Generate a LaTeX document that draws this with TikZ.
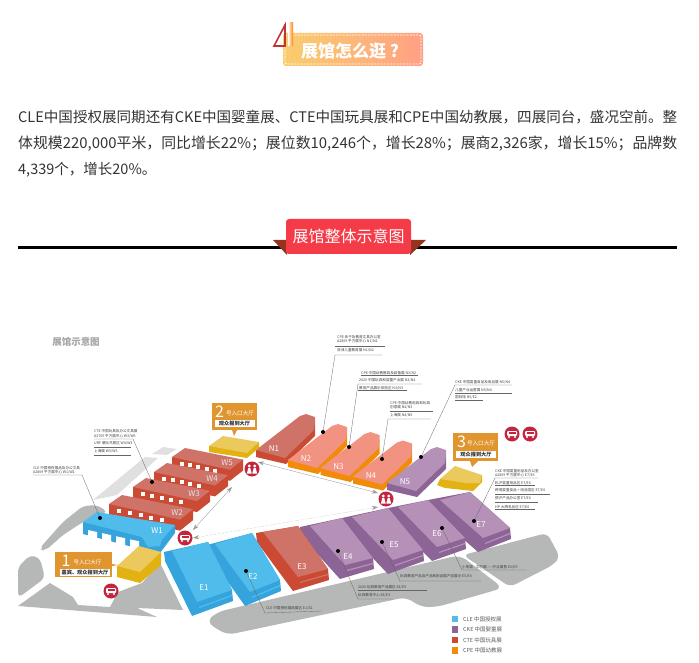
\documentclass[tikz,border=0pt]{standalone}
\usepackage{fontspec}
\usetikzlibrary{arrows.meta,calc}
\setmainfont{Noto Sans CJK SC}
\definecolor{groundGrey}{HTML}{B6B7B7}
\definecolor{paleGrey}{HTML}{E0E0E0}
\definecolor{roofRed}{HTML}{CF7268}
\definecolor{wallRed}{HTML}{CB4A34}
\definecolor{roofPeach}{HTML}{F29382}
\definecolor{wallOrange}{HTML}{F08C0A}
\definecolor{roofPurple}{HTML}{B591B8}
\definecolor{wallPurple}{HTML}{8C6496}
\definecolor{roofBlue}{HTML}{4FBCEC}
\definecolor{wallBlue}{HTML}{35A4DC}
\definecolor{blockTop}{HTML}{EBC95C}
\definecolor{blockWall}{HTML}{E2B212}
\definecolor{calloutOrange}{HTML}{E0952E}
\definecolor{iconRed}{HTML}{C5243F}
\definecolor{bannerLeft}{HTML}{F9CE6E}
\definecolor{bannerRight}{HTML}{FFA084}
\definecolor{titleRed}{HTML}{F43B47}
\definecolor{tabBrown}{HTML}{95341E}
\tikzset{
  hallname/.style={text=white,font=\fontsize{8}{8}\selectfont,inner sep=0pt},
  halldot/.style={circle,fill=black,inner sep=0pt,minimum size=4pt},
  leader/.style={draw=black!60,line width=0.3pt},
  tinytext/.style={anchor=west,inner sep=0pt,text=black!75,font=\fontsize{3.6}{4}\selectfont},
  callout/.style={fill=calloutOrange,inner sep=0pt},
  callin/.style={fill=white,inner sep=0pt,font=\fontsize{5.2}{5.2}\selectfont\bfseries,text=black!80},
  callcap/.style={text=white,font=\fontsize{5.6}{6}\selectfont,inner sep=0pt},
  callnum/.style={text=white,font=\fontsize{16}{16}\selectfont,inner sep=0pt},
  roundicon/.style={circle,fill=iconRed,inner sep=0pt,minimum size=15pt},
  walkway/.style={draw=black!40,line width=0.35pt,{Stealth[length=6pt,width=4pt]}-{Stealth[length=6pt,width=4pt]}},
  keybox/.style={inner sep=0pt,minimum size=6.5pt},
  keytext/.style={anchor=west,inner sep=0pt,text=black!65,font=\fontsize{5.5}{6}\selectfont},
}
% name, x, y, length of a west hall
\newcommand{\wHall}[4]{%
  \begin{scope}[shift={(#2,#3)}]
    \fill[wallRed] (0,0) -- (0,11) -- ({#4-13},{0.22*(#4-13)+11}) -- (#4,{-9+0.2*(#4-13)+11}) -- (#4,{-9+0.2*(#4-13)}) -- cycle;
    \fill[roofRed] (0,0) -- (13,-9) -- (#4,{-9+0.2*(#4-13)}) -- ({#4-13},{0.22*(#4-13)}) -- cycle;
    \foreach \k in {0,...,4}
      \fill[white] ({8+\k*(#4-30)/5},{4.5+0.22*\k*(#4-30)/5}) rectangle ++(4,4);
    \node[hallname,text=white!90!black] (lbl#1) at ({#4-16},{0.22*(#4-13)-7}) {#1};
  \end{scope}}
% name, x, y, roof colour, wall colour of a north hall
\newcommand{\nHall}[5]{%
  \begin{scope}[shift={(#2,#3)}]
    \fill[#5] (0,0) -- (0,7) -- (30,14) -- (59,-14) -- (59,-28) -- cycle;
    \fill[#4] (0,0) -- (44,-34) -- (50,-36) -- (59,-33) -- (59,-28) -- (58,-20) -- (29,8) -- cycle;
    \node[hallname] (lbl#1) at (18,-1) {#1};
  \end{scope}}
% name, label, roof, wall, corners A B C D, start of the roof
\newcommand{\eHall}[9]{%
  \fill[#4] #5 -- #6 -- #7 -- ($#7+(1,11)$) -- ($#8+(-5,14)$) -- ($#5+(1,9)$) -- cycle;
  \fill[#3] #9 -- #6 -- #7 -- #8 -- cycle;
  \draw[#3,line width=1.2pt] ($#8+(2,5.5)$) -- ($#7+(0,5.5)$);
  \node[hallname] (lbl#1) at #2 {#1};
}
\begin{document}
\begin{tikzpicture}[x=1pt,y=-1pt]
    \useasboundingbox (0,0) rectangle (699,663);

    % --- Heading banner ---
    \shade[left color=bannerLeft,right color=bannerRight,rounded corners=3pt] (283,33) rectangle (423,66);
    \draw[white,line width=0.7pt,dash pattern=on 2pt off 1.2pt,rounded corners=2pt] (285,35) rectangle (421,64);
    \node[text=white,font=\fontsize{17}{17}\selectfont\bfseries,inner sep=0pt] (headTitle) at (350,51) {展馆怎么逛 ?};
    \draw[red!70!black!80!white,line width=1.6pt] (285,25) -- (285,46) -- (274,46) -- cycle;
    \shade[left color=white,right color=orange] (288,23) rectangle (293,46);

    % --- Intro paragraph ---
    \node[text=black!80,inner sep=0pt,anchor=west] (lineOne) at (18,117) {\resizebox{659pt}{!}{CLE中国授权展同期还有CKE中国婴童展、CTE中国玩具展和CPE中国幼教展，四展同台，盛况空前。整}};
    \node[text=black!80,inner sep=0pt,anchor=west] (lineTwo) at (18,144) {\resizebox{659pt}{!}{体规模220,000平米，同比增长22\%；展位数10,246个，增长28\%；展商2,326家，增长15\%；品牌数}};
    \node[text=black!80,inner sep=0pt,anchor=west,font=\fontsize{14.5}{15}\selectfont] (lineThree) at (18,170) {4,339个，增长20\%。};

    % --- Section rule and red title ---
    \coordinate (ruleL) at (18,247.4);
    \coordinate (ruleR) at (677,247.4);
    \draw[line width=3pt] (ruleL) -- (ruleR);
    \fill[tabBrown] (273,240) -- (287,240) -- (287,255) -- cycle;
    \fill[tabBrown] (426,240) -- (410,240) -- (410,255) -- cycle;
    \node[fill=titleRed,rounded corners=3pt,minimum width=125pt,minimum height=35pt,inner sep=0pt,text=white,font=\fontsize{16}{17}\selectfont] (secTitle) at (348.5,236.5) {展馆整体示意图};

    % --- Map title ---
    \node[text=black!35,font=\fontsize{9.5}{10}\selectfont\bfseries,inner sep=0pt] (mapTitle) at (76,342) {展馆示意图};

    % --- Ground ---
    \fill[paleGrey] (93,500) -- (145,457) -- (158,458) -- (117,495) -- cycle;
    \fill[paleGrey] (152,454) -- (163,447) -- (177,449) -- (167,455) -- cycle;
    \fill[groundGrey,rounded corners=5pt] (39,549) -- (63,522) -- (83,506) -- (97,505) -- (108,512) -- (83,522) -- (63,535) -- (45,551) -- cycle;
    \fill[groundGrey,rounded corners=5pt] (18,567) -- (30,555) -- (40,558) -- (45,578) -- (18,598) -- cycle;
    \fill[groundGrey] (18,606) -- (50,583) -- (73,597) -- (78,605) -- (110,607) -- (118,592) -- (142,583) -- (160,563) -- (183,610) -- (137,608) -- (157,617) -- cycle;
    \fill[groundGrey,rounded corners=8pt] (217,612) -- (206,622) -- (227,635) -- (407,597) -- (420,607) -- (437,607) -- (503,588) -- (460,555) -- cycle;
    \fill[groundGrey,rounded corners=6pt] (463,555) -- (547,533) -- (560,557) -- (553,565) -- (510,587) -- cycle;

    % --- Walkways between the halls ---
    \coordinate (walkA) at (193,530);
    \coordinate (walkB) at (232,487);
    \coordinate (walkC) at (258,462);
    \coordinate (walkD) at (378,493);
    \coordinate (walkE) at (193,538);
    \coordinate (walkF) at (378,507);
    \draw[walkway] (walkA) -- (walkB);
    \draw[walkway] (walkC) -- (walkD);
    \draw[walkway,densely dotted] (walkE) -- (walkF);

    % --- West halls ---
    \wHall{W5}{172}{457}{71}
    \wHall{W4}{154}{472}{74}
    \wHall{W3}{133}{487}{77}
    \wHall{W2}{109}{504}{84}

    % W1 is the blue one with the turned end
    \fill[wallBlue] (83,522) -- (83,534) -- (148,551) -- (160,553) -- (175,533) -- (175,525) -- cycle;
    \foreach \k in {0,...,3}
      \fill[white] ({88+14*\k},{530+3.1*\k}) -- ++(9,2) -- ++(0,10) -- ++(-9,-2) -- cycle;
    \fill[roofBlue] (83,522) -- (97,512) -- (175,525) -- (162,540) -- (160,546) -- (148,547) -- (142,537) -- cycle;
    \node[hallname] (lblW1) at (157,531) {W1};

    % --- North halls ---
    \nHall{N1}{256}{450}{roofRed}{wallRed}
    \nHall{N2}{288}{460}{roofPeach}{wallOrange}
    \nHall{N3}{320.5}{468}{roofPeach}{wallOrange}
    \nHall{N4}{353}{476.5}{roofPeach}{wallOrange}
    \nHall{N5}{387}{483}{roofPurple}{wallPurple}

    % --- East halls ---
    \eHall{E7}{(481,525)}{roofPurple}{wallPurple}{(428,500)}{(470,492)}{(510,528)}{(483,538)}{(440,500)}
    \eHall{E6}{(437,534)}{roofPurple}{wallPurple}{(388,508)}{(428,500)}{(465,538)}{(437,547)}{(398,507)}
    \eHall{E5}{(394,545)}{roofPurple}{wallPurple}{(342,518)}{(388,508)}{(423,550)}{(393,560)}{(352,517)}
    \eHall{E4}{(348,557)}{roofPurple}{wallPurple}{(300,527)}{(342,518)}{(373,558)}{(345,565)}{(310,526)}
    \eHall{E3}{(302,567)}{roofRed}{wallRed}{(256,533)}{(298,526)}{(328,569)}{(298,577)}{(263,532)}
    \eHall{E2}{(253,577)}{roofBlue}{wallBlue}{(207,545)}{(252,533)}{(280,580)}{(250,592)}{(215,544)}
    \eHall{E1}{(204,588)}{roofBlue}{wallBlue}{(164,552)}{(208,542)}{(232,590)}{(197,602)}{(172,551)}

    % --- Yellow entrance blocks ---
    \fill[blockWall] (117,566) -- (117,577) -- (140,583) -- (161,565) -- (161,552) -- cycle;
    \fill[blockTop] (139,546) -- (161,552) -- (140,572) -- (117,566) -- cycle;
    \fill[blockWall] (209,446) -- (209,452) -- (247,458) -- (259,448) -- (259,442) -- cycle;
    \fill[blockTop] (209,446) -- (223,436) -- (259,442) -- (247,453) -- cycle;
    \fill[blockWall] (440,479) -- (437,485) -- (445,488) -- (473,491) -- (482,482) -- (482,475) -- cycle;
    \fill[blockTop] (440,479) -- (455,466) -- (482,475) -- (480,483) -- (465,483) -- cycle;

    % --- Entrance callouts ---
    \node[callout,minimum width=57pt,minimum height=25pt] (hallOne) at (83.5,564.5) {};
    \node[callout,minimum width=45pt,minimum height=27pt] (hallTwo) at (234.5,416.5) {};
    \node[callout,minimum width=45pt,minimum height=28pt] (hallThree) at (475.5,447) {};
    \fill[calloutOrange] (112,564) -- (118,565) -- (112,566) -- cycle;
    \fill[calloutOrange] (232,430) -- (234,436) -- (237,430) -- cycle;
    \fill[calloutOrange] (470,461) -- (472,467) -- (478,461) -- cycle;
    \node[callin,minimum width=50pt,minimum height=7pt] (inOne) at (85,572.5) {嘉宾、观众报到大厅};
    \node[callin,minimum width=40pt,minimum height=7pt] (inTwo) at (234.5,423.5) {观众报到大厅};
    \node[callin,minimum width=40pt,minimum height=7.5pt] (inThree) at (476,454.5) {观众报到大厅};
    \node[callnum] (numOne) at (66,560.5) {1};
    \node[callnum] (numTwo) at (219.5,412) {2};
    \node[callnum] (numThree) at (461.5,442) {3};
    \node[callcap] (capOne) at (87.5,562) {号入口大厅};
    \node[callcap] (capTwo) at (240,413) {号入口大厅};
    \node[callcap] (capThree) at (481,443) {号入口大厅};

    % --- Round icons: vehicles, then people ---
    \foreach \nm/\px/\py in {cartA/185/538,carB/111/591,busA/512/434,carC/530/434} {
      \node[roundicon] (\nm) at (\px,\py) {};
      \fill[white,rounded corners=1pt] ({\px-5},{\py-3}) rectangle ({\px+5},{\py+2});
      \fill[iconRed] ({\px-3.5},{\py-2}) rectangle ({\px+3.5},{\py-0.3});
      \fill[white] ({\px-3},{\py+3}) circle (1.1);
      \fill[white] ({\px+3},{\py+3}) circle (1.1);
    }
    \foreach \nm/\px/\py in {gateA/252/469,gateB/386/499} {
      \node[roundicon] (\nm) at (\px,\py) {};
      \foreach \d in {-2.7,2.7} {
        \fill[white] ({\px+\d},{\py-3}) circle (1.6);
        \fill[white] ({\px+\d-2.4},{\py+4.5}) -- ({\px+\d-1},{\py-1}) -- ({\px+\d+1},{\py-1}) -- ({\px+\d+2.4},{\py+4.5}) -- cycle;
      }
    }

    % --- Dots and their leader lines ---
    \foreach \nm/\px/\py in {dotWa/100/518,dotWc/152/482,dotNb/323/432,dotNc/349/447,dotNd/382/459,dotNe/421/457,dotEb/246/571,dotEd/338/551,dotEe/382/542,dotEf/442/528,dotEg/474/521}
      \node[halldot] (\nm) at (\px,\py) {};
    \coordinate (legWa) at (82,475);   \coordinate (endWa) at (33,475);
    \coordinate (legWc) at (133,439);  \coordinate (endWc) at (94,439);
    \coordinate (legNb) at (335,355);  \coordinate (endNb) at (382,355);
    \coordinate (legNc) at (358,384);  \coordinate (endNc) at (422,384);
    \coordinate (legNd) at (388,419);  \coordinate (endNd) at (431,419);
    \coordinate (legNe) at (455,385);  \coordinate (endNe) at (512,385);
    \coordinate (legEb) at (265,613);  \coordinate (endEb) at (322,611);
    \coordinate (legEd) at (358,599);  \coordinate (endEd) at (393,599);
    \coordinate (legEe) at (400,581);  \coordinate (endEe) at (481,581);
    \coordinate (legEf) at (462,570);  \coordinate (endEf) at (527,570);
    \coordinate (legEg) at (495,478);  \coordinate (endEg) at (538,478);
    \foreach \b in {Wa,Wc,Nb,Nc,Nd,Ne,Eb,Ed,Ee,Ef,Eg}
      \draw[leader] (dot\b) -- (leg\b) -- (end\b);
    % the shorter rules under the other text lines
    \foreach \xa/\xb/\ya in {94/131/447,94/131/455,335/385/346,361/418/375,358/407/390,390/433/411,455/512/393,455/483/400,358/427/590,495/535/485,495/550/494,495/538/502,495/535/509}
      \draw[leader] (\xa,\ya) -- (\xb,\ya);

    % --- Small hall notes ---
    \node[tinytext] (txtWa) at (33,468) {CLE 中国授权展品及办公文具};
    \node[tinytext] (txtWb) at (33,472) {A2809 平方展中心 W1/W2};
    \node[tinytext] (txtWc) at (94,431) {CTE 中国玩具及办公文具展};
    \node[tinytext] (txtWd) at (94,436) {A2705 平方展中心 W3/W5};
    \node[tinytext] (txtWe) at (94,443) {URF 潮玩共展区 W4/W3};
    \node[tinytext] (txtWf) at (94,451) {上海展 W3/W5};
    \node[tinytext] (txtNa) at (337,337) {CPE 亲子及教育文具办公室};
    \node[tinytext] (txtNb) at (337,341) {A2809 平方展中心 N1/N2};
    \node[tinytext] (txtNc) at (337,350) {亚洲儿童教育展 N1/N2};
    \node[tinytext] (txtNd) at (361,373) {CPE 中国幼教教具及装备展 N3/N2};
    \node[tinytext] (txtNe) at (359,380) {2020 中国玩具和婴童产业展 N3/N4};
    \node[tinytext] (txtNf) at (359,388) {教育产品展示体验区 N3/N3};
    \node[tinytext] (txtNg) at (390,403) {CPE 中国幼教用具和玩具};
    \node[tinytext] (txtNh) at (390,407) {创意展 N4/N3};
    \node[tinytext] (txtNi) at (390,415) {上海展 N4/N5};
    \node[tinytext] (txtNj) at (455,382) {CKE 中国婴童食品及用品展 N5/N4};
    \node[tinytext] (txtNk) at (455,390) {儿童产业运营展 N5/N4};
    \node[tinytext] (txtNl) at (455,397) {国际馆 N5/E2};
    \node[tinytext] (txtEa) at (495,471) {CKE 中国婴童用品及办公室};
    \node[tinytext] (txtEb) at (495,475) {A2809 平方展中心 E7/E6};
    \node[tinytext] (txtEc) at (495,483) {松沪婴童用品区 E7/E6};
    \node[tinytext] (txtEd) at (495,490) {跨境婴童食品 + 用品馆区 E7/E6};
    \node[tinytext] (txtEe) at (495,498) {德沪产品办公室 E7/E6};
    \node[tinytext] (txtEf) at (495,507) {HP 大牌名品区 E7/E6};
    \node[tinytext] (txtEg) at (462,567) {小熊猫 - 文创展——开业展售 E6/E5};
    \node[tinytext] (txtEh) at (400,576) {玩具教育产品及产品和用品展产品展示 E5/E4};
    \node[tinytext] (txtEi) at (358,587) {2020 玩具教育产品展区 E4/E5};
    \node[tinytext] (txtEj) at (358,595) {玩具教育中心 E4/E3};
    \node[tinytext] (txtEk) at (266,608) {CLE 中国授权展商展区 E1/E2};

    % --- Legend ---
    \node[keybox,fill=roofBlue] (keyCle) at (455,619) {};
    \node[keybox,fill=wallPurple] (keyCke) at (455,629.5) {};
    \node[keybox,fill=wallRed] (keyCte) at (455,640) {};
    \node[keybox,fill=wallOrange] (keyCpe) at (455,650.5) {};
    \node[keytext] (keyCleText) at (463,619) {CLE 中国授权展};
    \node[keytext] (keyCkeText) at (463,629.5) {CKE 中国婴童展};
    \node[keytext] (keyCteText) at (463,640) {CTE 中国玩具展};
    \node[keytext] (keyCpeText) at (463,650.5) {CPE 中国幼教展};
\end{tikzpicture}
\end{document}
